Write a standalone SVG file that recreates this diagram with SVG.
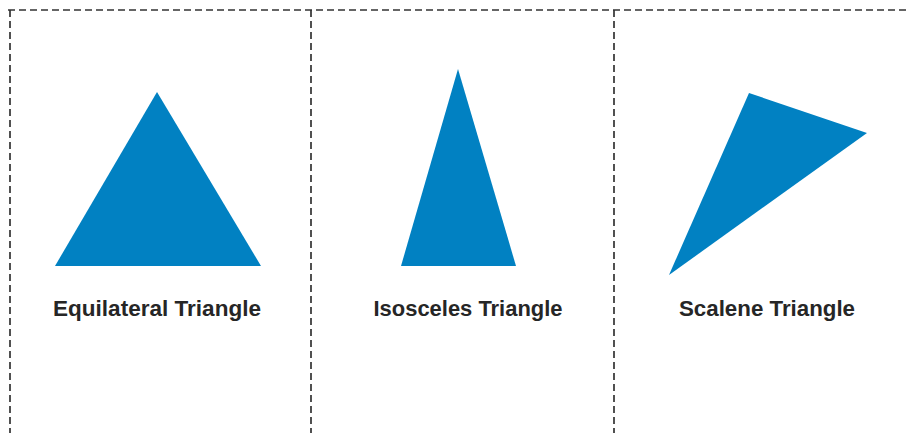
<svg xmlns="http://www.w3.org/2000/svg" width="909" height="433" viewBox="0 0 909 433">
<style>
.dash{stroke:#333333;stroke-width:1.7;stroke-dasharray:7 4;fill:none}
.tri{fill:#0181c2}
.lbl{font-family:"Liberation Sans",Arial,sans-serif;font-weight:bold;font-size:22px;fill:#262626;text-anchor:middle}
</style>
<rect width="909" height="433" fill="#ffffff"/>
<g id="frame">
<line class="dash" x1="8" y1="10" x2="909" y2="10"/>
<line class="dash" x1="10" y1="10" x2="10" y2="433"/>
<line class="dash" x1="311" y1="10" x2="311" y2="433"/>
<line class="dash" x1="614" y1="10" x2="614" y2="433"/>
</g>
<g id="equilateral">
<polygon class="tri" points="157,92 261,266 55,266"/>
<text class="lbl" x="157" y="316" textLength="208" lengthAdjust="spacingAndGlyphs">Equilateral Triangle</text>
</g>
<g id="isosceles">
<polygon class="tri" points="458,69 516,266 401,266"/>
<text class="lbl" x="468" y="316" textLength="189" lengthAdjust="spacingAndGlyphs">Isosceles Triangle</text>
</g>
<g id="scalene">
<polygon class="tri" points="749,93 867,133 669,275"/>
<text class="lbl" x="767" y="316" textLength="176" lengthAdjust="spacingAndGlyphs">Scalene Triangle</text>
</g>
</svg>
